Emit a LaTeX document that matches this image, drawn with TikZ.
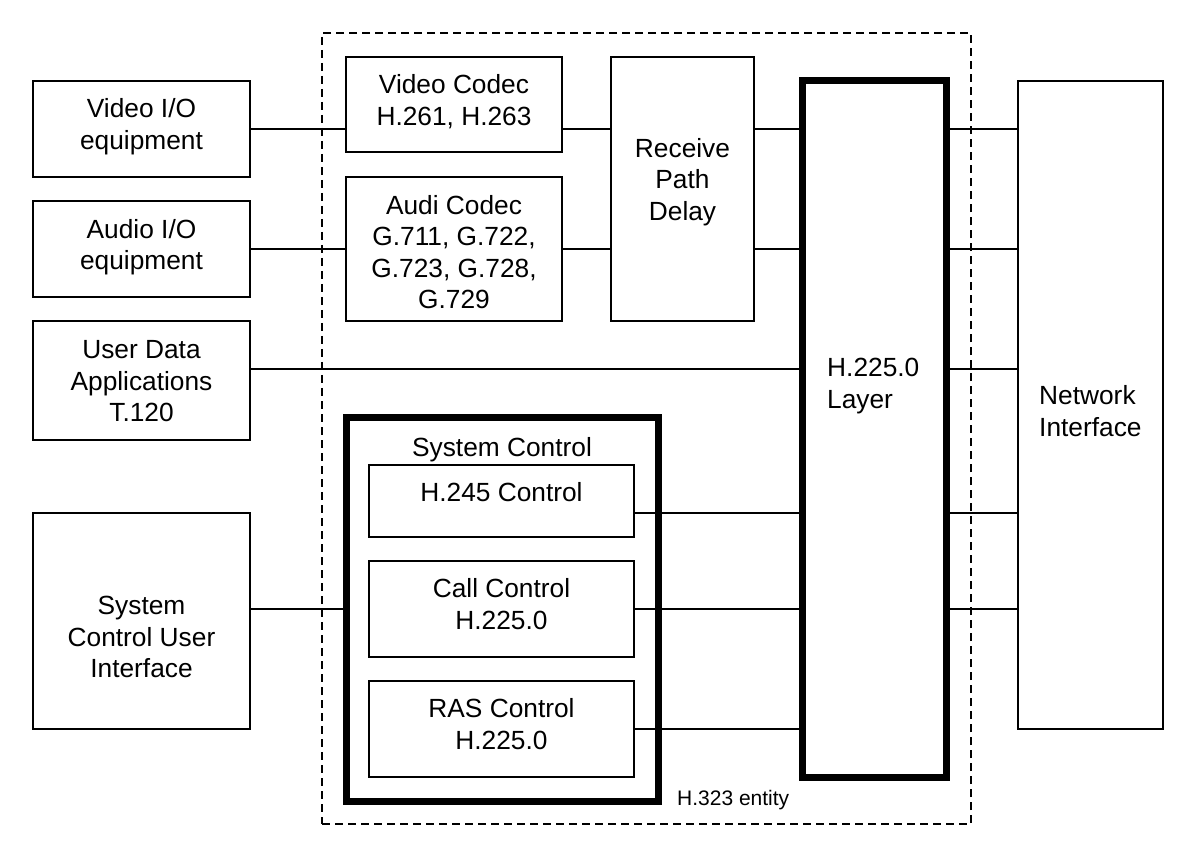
\documentclass[tikz,border=0pt]{standalone}
\usepackage{fontspec}
\setmainfont{Liberation Sans}
\usetikzlibrary{calc}
\newcommand\boxfont{\fontsize{26.3}{31.5}\selectfont}
\newcommand\tagfont{\fontsize{21}{25}\selectfont}
\begin{document}
\begin{tikzpicture}[x=1pt,y=-1pt,
  box/.style={draw, line width=1.1pt, inner sep=0pt},
  heavy/.style={draw, line width=7pt, inner sep=0pt},
  wire/.style={line width=1.1pt},
  txt/.style={inner sep=0pt, align=center, font=\boxfont},
  % box text placed at the centre, raised by #1
  says/.style 2 args={label={[txt, yshift=#1]center:{#2}}},
  frame/.style={draw, line width=1.3pt, dash pattern=on 8pt off 5pt, inner sep=0pt}]

\useasboundingbox (0,0) rectangle (1186,845);

% H.323 entity boundary
\node[frame, minimum width=649pt, minimum height=791pt] (entity) at (646.5,428.5) {};
\node[inner sep=0pt, anchor=west, font=\tagfont] (entitytag) at (677,800) {H.323 entity};

% terminal equipment on the left
\node[box, minimum width=217pt, minimum height=96pt, says={2.5pt}{Video I/O\\equipment}] (vio) at (141.5,129) {};
\node[box, minimum width=217pt, minimum height=96pt, says={2pt}{Audio I/O\\equipment}] (aio) at (141.5,249) {};
\node[box, minimum width=217pt, minimum height=119pt, says={-1pt}{User Data\\Applications\\T.120}] (uda) at (141.5,380.5) {};
\node[box, minimum width=217pt, minimum height=216pt, says={-16pt}{System\\Control User\\Interface}] (scui) at (141.5,621) {};

% codecs and delay
\node[box, minimum width=216pt, minimum height=95pt, says={3pt}{Video Codec\\H.261, H.263}] (vcod) at (454,104.5) {};
\node[box, minimum width=216pt, minimum height=144pt, says={-3pt}{Audi Codec\\G.711, G.722,\\G.723, G.728,\\G.729}] (acod) at (454,249) {};
\node[box, minimum width=143pt, minimum height=264pt, says={7pt}{Receive\\Path\\Delay}] (rpd) at (682.5,189) {};

% system control block
\node[heavy, minimum width=312pt, minimum height=384pt] (sysc) at (502,609) {};
\node[txt] (sysctitle) at (502,450) {System Control};
\node[box, minimum width=265pt, minimum height=72pt, says={9pt}{H.245 Control}] (h245) at (501.5,501) {};
\node[box, minimum width=265pt, minimum height=96pt, says={5pt}{Call Control\\H.225.0}] (callc) at (501.5,609) {};
\node[box, minimum width=265pt, minimum height=96pt, says={5pt}{RAS Control\\H.225.0}] (rasc) at (501.5,729) {};

% H.225.0 layer and network interface
\node[heavy, minimum width=144pt, minimum height=696pt] (h225) at (874,429) {};
\node[txt, anchor=west, align=left] (h225txt) at (827,386) {H.225.0\\Layer};
\node[box, minimum width=145pt, minimum height=648pt] (net) at (1090.5,405) {};
\node[txt, anchor=west, align=left] (nettxt) at (1039,411) {Network\\Interface};

% connections
\coordinate (udaout) at ($(uda.east)+(0,-11.5)$);
\coordinate (h245out) at ($(h245.east)+(0,12)$);

\draw[wire] (vio.east) -- (vio.east -| vcod.west);
\draw[wire] (aio.east) -- (acod.west);
\draw[wire] (udaout) -- (udaout -| h225.west);
\draw[wire] (sysc.west -| scui.east) -- (sysc.west);

\draw[wire] (vio.east -| vcod.east) -- (vio.east -| rpd.west);
\draw[wire] (acod.east) -- (acod.east -| rpd.west);
\draw[wire] (vio.east -| rpd.east) -- (vio.east -| h225.west);
\draw[wire] (acod.east -| rpd.east) -- (acod.east -| h225.west);

\draw[wire] (h245out) -- (h245out -| h225.west);
\draw[wire] (callc.east) -- (callc.east -| h225.west);
\draw[wire] (rasc.east) -- (rasc.east -| h225.west);

\foreach \src in {vio, aio, udaout, h245out, callc}
  \draw[wire] (\src -| h225.east) -- (\src -| net.west);
\end{tikzpicture}
\end{document}
